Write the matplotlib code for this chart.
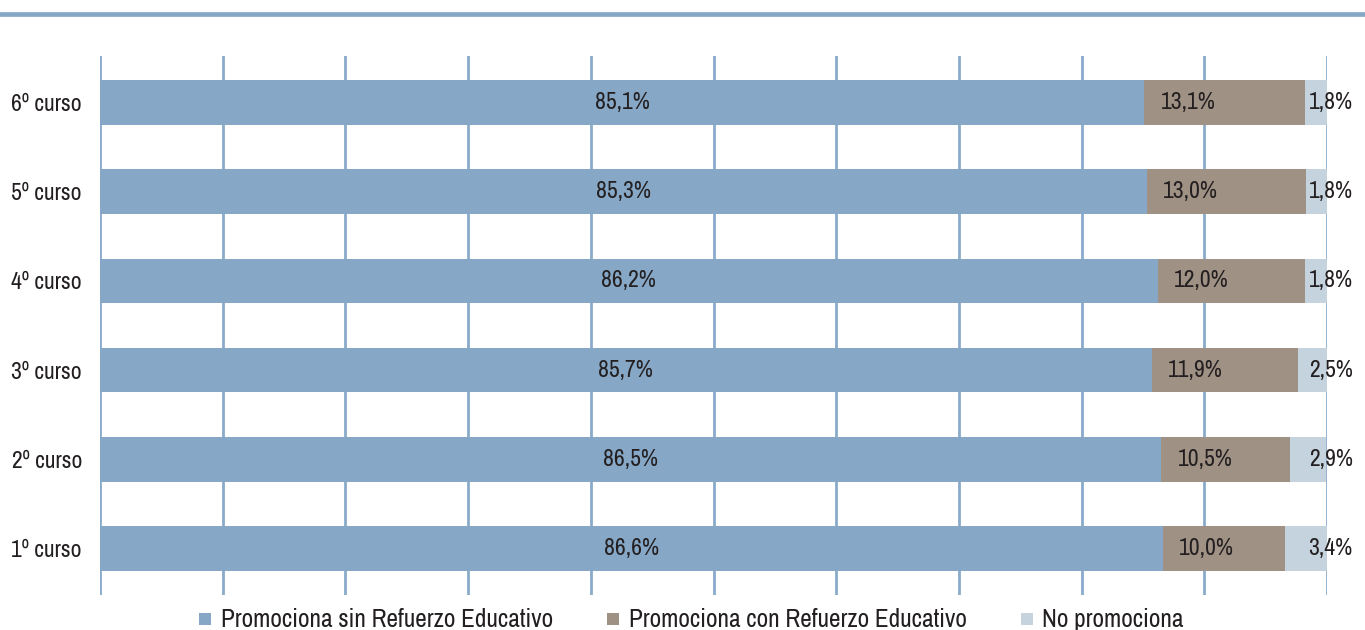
import matplotlib
matplotlib.use("Agg")
import matplotlib.pyplot as plt
from matplotlib.lines import Line2D

# Data (bottom to top)
cursos = ["1º curso", "2º curso", "3º curso", "4º curso", "5º curso", "6º curso"]
sin_refuerzo = [86.6, 86.5, 85.7, 86.2, 85.3, 85.1]
con_refuerzo = [10.0, 10.5, 11.9, 12.0, 13.0, 13.1]
no_promociona = [3.4, 2.9, 2.5, 1.8, 1.8, 1.8]
series_names = ["Promociona sin Refuerzo Educativo",
                "Promociona con Refuerzo Educativo",
                "No promociona"]

c_blue = "#86a8c6"
c_brown = "#a09185"
c_light = "#c5d3df"
c_grid = "#8aaacb"
c_text = "#231f20"
FONT = ["Archivo Narrow", "DejaVu Sans"]

plt.rcParams["font.family"] = FONT

fig = plt.figure(figsize=(13.65, 6.3), dpi=100)
ax = fig.add_axes([0.0733, 0.0556, 0.8989, 0.8556])

def fmt(v):
    return f"{v:.1f}".replace(".", ",") + "%"

y = list(range(len(cursos)))
h = 0.5
LBL = 17

for xv in range(0, 101, 10):
    ax.axvline(xv, color=c_grid, lw=2, zorder=0)

left2 = [a for a in sin_refuerzo]
left3 = [a + b for a, b in zip(sin_refuerzo, con_refuerzo)]
ax.barh(y, sin_refuerzo, height=h, color=c_blue, zorder=2)
ax.barh(y, con_refuerzo, left=left2, height=h, color=c_brown, zorder=2)
ax.barh(y, no_promociona, left=left3, height=h, color=c_light, zorder=2)

for i in y:
    ax.text(sin_refuerzo[i] / 2, i, fmt(sin_refuerzo[i]), ha="center", va="center",
            fontsize=LBL, color=c_text, zorder=3)
    ax.text(left2[i] + 1.35, i, fmt(con_refuerzo[i]), ha="left", va="center",
            fontsize=LBL, color=c_text, zorder=3)
    ax.text(100.3, i, fmt(no_promociona[i]), ha="center", va="center",
            fontsize=LBL, color=c_text, zorder=3)

ax.set_xlim(0, 100)
ax.set_ylim(-0.52, 5.52)
ax.set_yticks(y)
ax.set_yticklabels(cursos, fontsize=LBL, color=c_text)
ax.set_xticks([])
ax.tick_params(axis="y", length=0, pad=13)
for s in ax.spines.values():
    s.set_visible(False)

# Top rule
fig.add_artist(Line2D([0, 1], [0.977, 0.977], transform=fig.transFigure,
                      color=c_blue, lw=3.4))

handles = [Line2D([], [], marker="s", ls="", markersize=9, color=c, markeredgewidth=0)
           for c in (c_blue, c_brown, c_light)]
fig.legend(handles, series_names, loc="center", bbox_to_anchor=(0.506, 0.016),
           ncol=3, frameon=False, fontsize=18.2, handlelength=0.6,
           handletextpad=0.3, columnspacing=2.1, labelcolor=c_text,
           borderaxespad=0, borderpad=0)

fig.savefig("out.png", dpi=100)
